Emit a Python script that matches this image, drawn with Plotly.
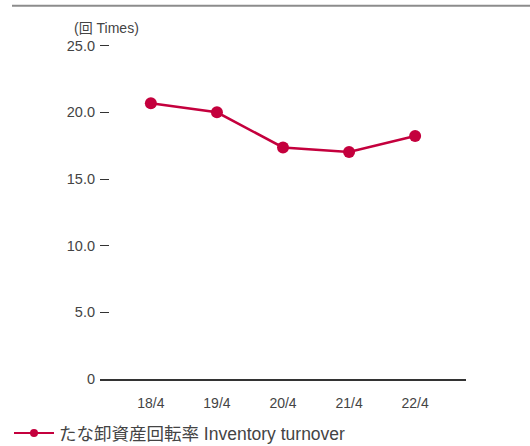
import plotly.graph_objects as go

categories = ["18/4", "19/4", "20/4", "21/4", "22/4"]
turnover = [20.68, 20.0, 17.37, 17.02, 18.22]
y_ticks = [0, 5, 10, 15, 20, 25]
y_tick_labels = ["0", "5.0", "10.0", "15.0", "20.0", "25.0"]
series_name = "たな卸資産回転率 Inventory turnover"
unit_label = "(回 Times)"

RED = "#C4003D"
TXT = "#444444"
FONT = "Liberation Sans, Noto Sans CJK JP, sans-serif"

Y_TOP = 25.5
PLOT_H = 333 * Y_TOP / 25
TOP = 379 - PLOT_H


def py(px):
    return (379 - px) / PLOT_H


def px_x(px):
    return (px - 100) / 366


fig = go.Figure()
fig.add_trace(go.Scatter(
    x=categories, y=turnover, mode="lines+markers",
    line=dict(color=RED, width=2.5),
    marker=dict(color=RED, size=12),
    showlegend=False, cliponaxis=False,
))
fig.add_trace(go.Scatter(
    x=[None], y=[None], mode="lines+markers", name=series_name,
    line=dict(color=RED, width=2),
    marker=dict(color=RED, size=8),
))

fig.update_layout(
    width=530, height=446,
    margin=dict(l=100, r=64, t=TOP, b=67, autoexpand=False),
    paper_bgcolor="white", plot_bgcolor="white",
    font=dict(family=FONT, size=14, color=TXT),
    xaxis=dict(
        type="category", range=[-0.77, 4.77],
        showline=True, linecolor="#333333", linewidth=1.5,
        showgrid=False, zeroline=False, ticks="",
        ticklabelstandoff=10,
        tickfont=dict(size=14, color=TXT),
    ),
    yaxis=dict(
        range=[0, Y_TOP], tickvals=y_ticks, ticktext=y_tick_labels,
        ticks="inside", ticklen=9, tickcolor="#333333", tickwidth=1,
        showline=False, showgrid=False, zeroline=False,
        ticklabelstandoff=4,
        tickfont=dict(size=14.5, color=TXT),
    ),
    legend=dict(
        orientation="h", x=px_x(9), xanchor="left",
        y=py(451), yanchor="bottom", itemwidth=40,
        font=dict(size=17.5, color=TXT), bgcolor="rgba(0,0,0,0)",
    ),
    shapes=[dict(
        type="line", xref="paper", yref="paper",
        x0=px_x(12), x1=px_x(531), y0=py(6), y1=py(6),
        line=dict(color="#8c8c8c", width=2),
    )],
    annotations=[dict(
        text=unit_label, xref="paper", yref="paper",
        x=px_x(72), y=py(28), xanchor="left", yanchor="middle",
        showarrow=False, font=dict(size=14, color=TXT),
    )],
)

fig.write_html(
    "out.html",
    config={"displayModeBar": False},
    post_script="document.body.style.margin='0';document.body.style.padding='0';",
)
